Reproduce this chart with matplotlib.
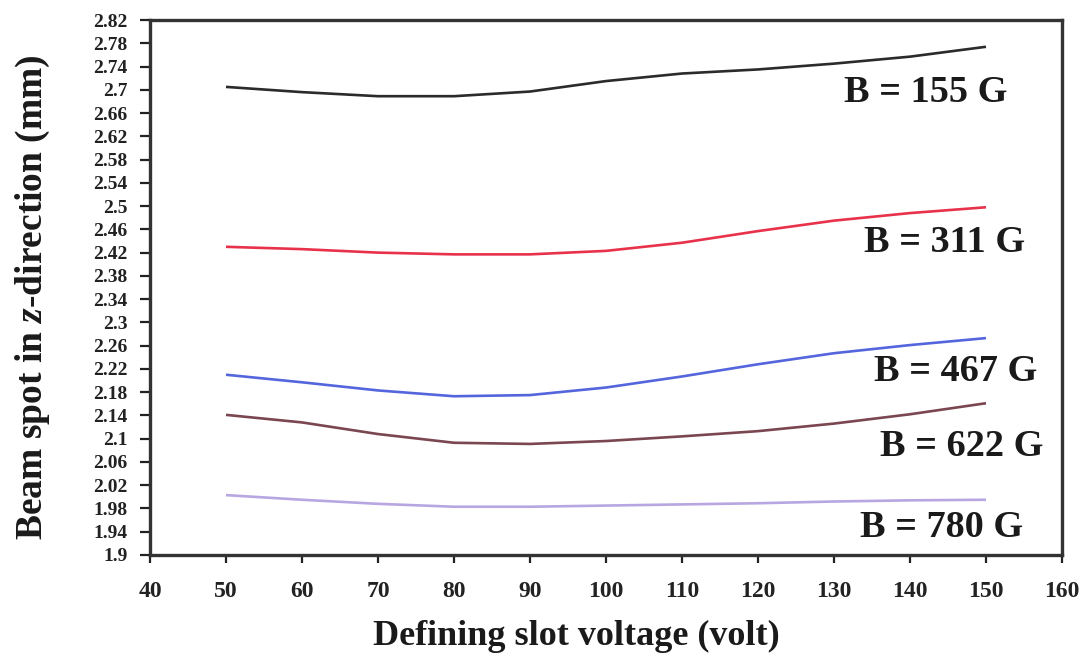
import numpy as np
import matplotlib
matplotlib.use("Agg")
import matplotlib.pyplot as plt
from matplotlib.ticker import FixedLocator, FuncFormatter

plt.rcParams["font.family"] = "Liberation Serif"
plt.rcParams["font.weight"] = "bold"
plt.rcParams["mathtext.fontset"] = "custom"
plt.rcParams["mathtext.it"] = "Liberation Serif:italic:bold"
plt.rcParams["mathtext.rm"] = "Liberation Serif:bold"

# Defining slot voltage (volt)
voltage = [50, 60, 70, 80, 90, 100, 110, 120, 130, 140, 150]

# Beam spot in z-direction (mm) for each magnetic field
spot_155 = [2.705, 2.696, 2.689, 2.689, 2.697, 2.715, 2.728, 2.735, 2.745, 2.757, 2.774]
spot_311 = [2.430, 2.426, 2.420, 2.417, 2.417, 2.423, 2.437, 2.457, 2.475, 2.488, 2.498]
spot_467 = [2.210, 2.197, 2.183, 2.173, 2.175, 2.188, 2.207, 2.228, 2.247, 2.261, 2.273]
spot_622 = [2.141, 2.128, 2.108, 2.093, 2.091, 2.096, 2.104, 2.113, 2.126, 2.142, 2.161]
spot_780 = [2.003, 1.995, 1.988, 1.983, 1.983, 1.985, 1.987, 1.989, 1.992, 1.994, 1.995]

labels = ["B = 155 G", "B = 311 G", "B = 467 G", "B = 622 G", "B = 780 G"]
label_x = [142.0, 144.6, 146.0, 146.8, 144.2]
label_y = [2.696, 2.437, 2.215, 2.086, 1.948]

series = [spot_155, spot_311, spot_467, spot_622, spot_780]
colors = ["#2b2b2b", "#e8324c", "#5566dd", "#7a4650", "#b7a6e2"]

yticks = np.round(np.arange(1.90, 2.821, 0.04), 2)
xticks = list(range(40, 161, 10))

fig = plt.figure(figsize=(10.86, 6.63), dpi=100)
ax = fig.add_axes([0.1381, 0.1629, 0.8398, 0.8069])

for ys, c in zip(series, colors):
    ax.plot(voltage, ys, color=c, lw=1.9, solid_capstyle="butt")

for txt, x, y in zip(labels, label_x, label_y):
    ax.text(x, y, txt, ha="center", va="center", fontsize=27.5, fontweight="bold", color="#1a1a1a")

ax.set_xlim(40, 160)
ax.set_ylim(1.9, 2.82)
ax.yaxis.set_major_locator(FixedLocator(yticks))
ax.yaxis.set_major_formatter(FuncFormatter(lambda v, p: f"{v:g}"))
ax.set_xticks(xticks)

ax.tick_params(axis="y", direction="out", length=7, width=1.6, labelsize=14, pad=9, colors="#222222")
ax.tick_params(axis="x", direction="out", length=6, width=1.6, labelsize=17, pad=13, colors="#222222")
for lab in ax.get_xticklabels() + ax.get_yticklabels():
    lab.set_fontweight("bold")

for s in ax.spines.values():
    s.set_linewidth(2.4)
    s.set_color("#333333")

ax.set_ylabel("Beam spot in $z$-direction (mm)", fontsize=27, fontweight="bold", color="#1a1a1a")
ax.yaxis.set_label_coords(-0.107, 0.482)
ax.set_xlabel("Defining slot voltage (volt)", fontsize=26, fontweight="bold", color="#1a1a1a")
ax.xaxis.set_label_coords(0.467, -0.1215)

fig.savefig("out.png", dpi=100)
